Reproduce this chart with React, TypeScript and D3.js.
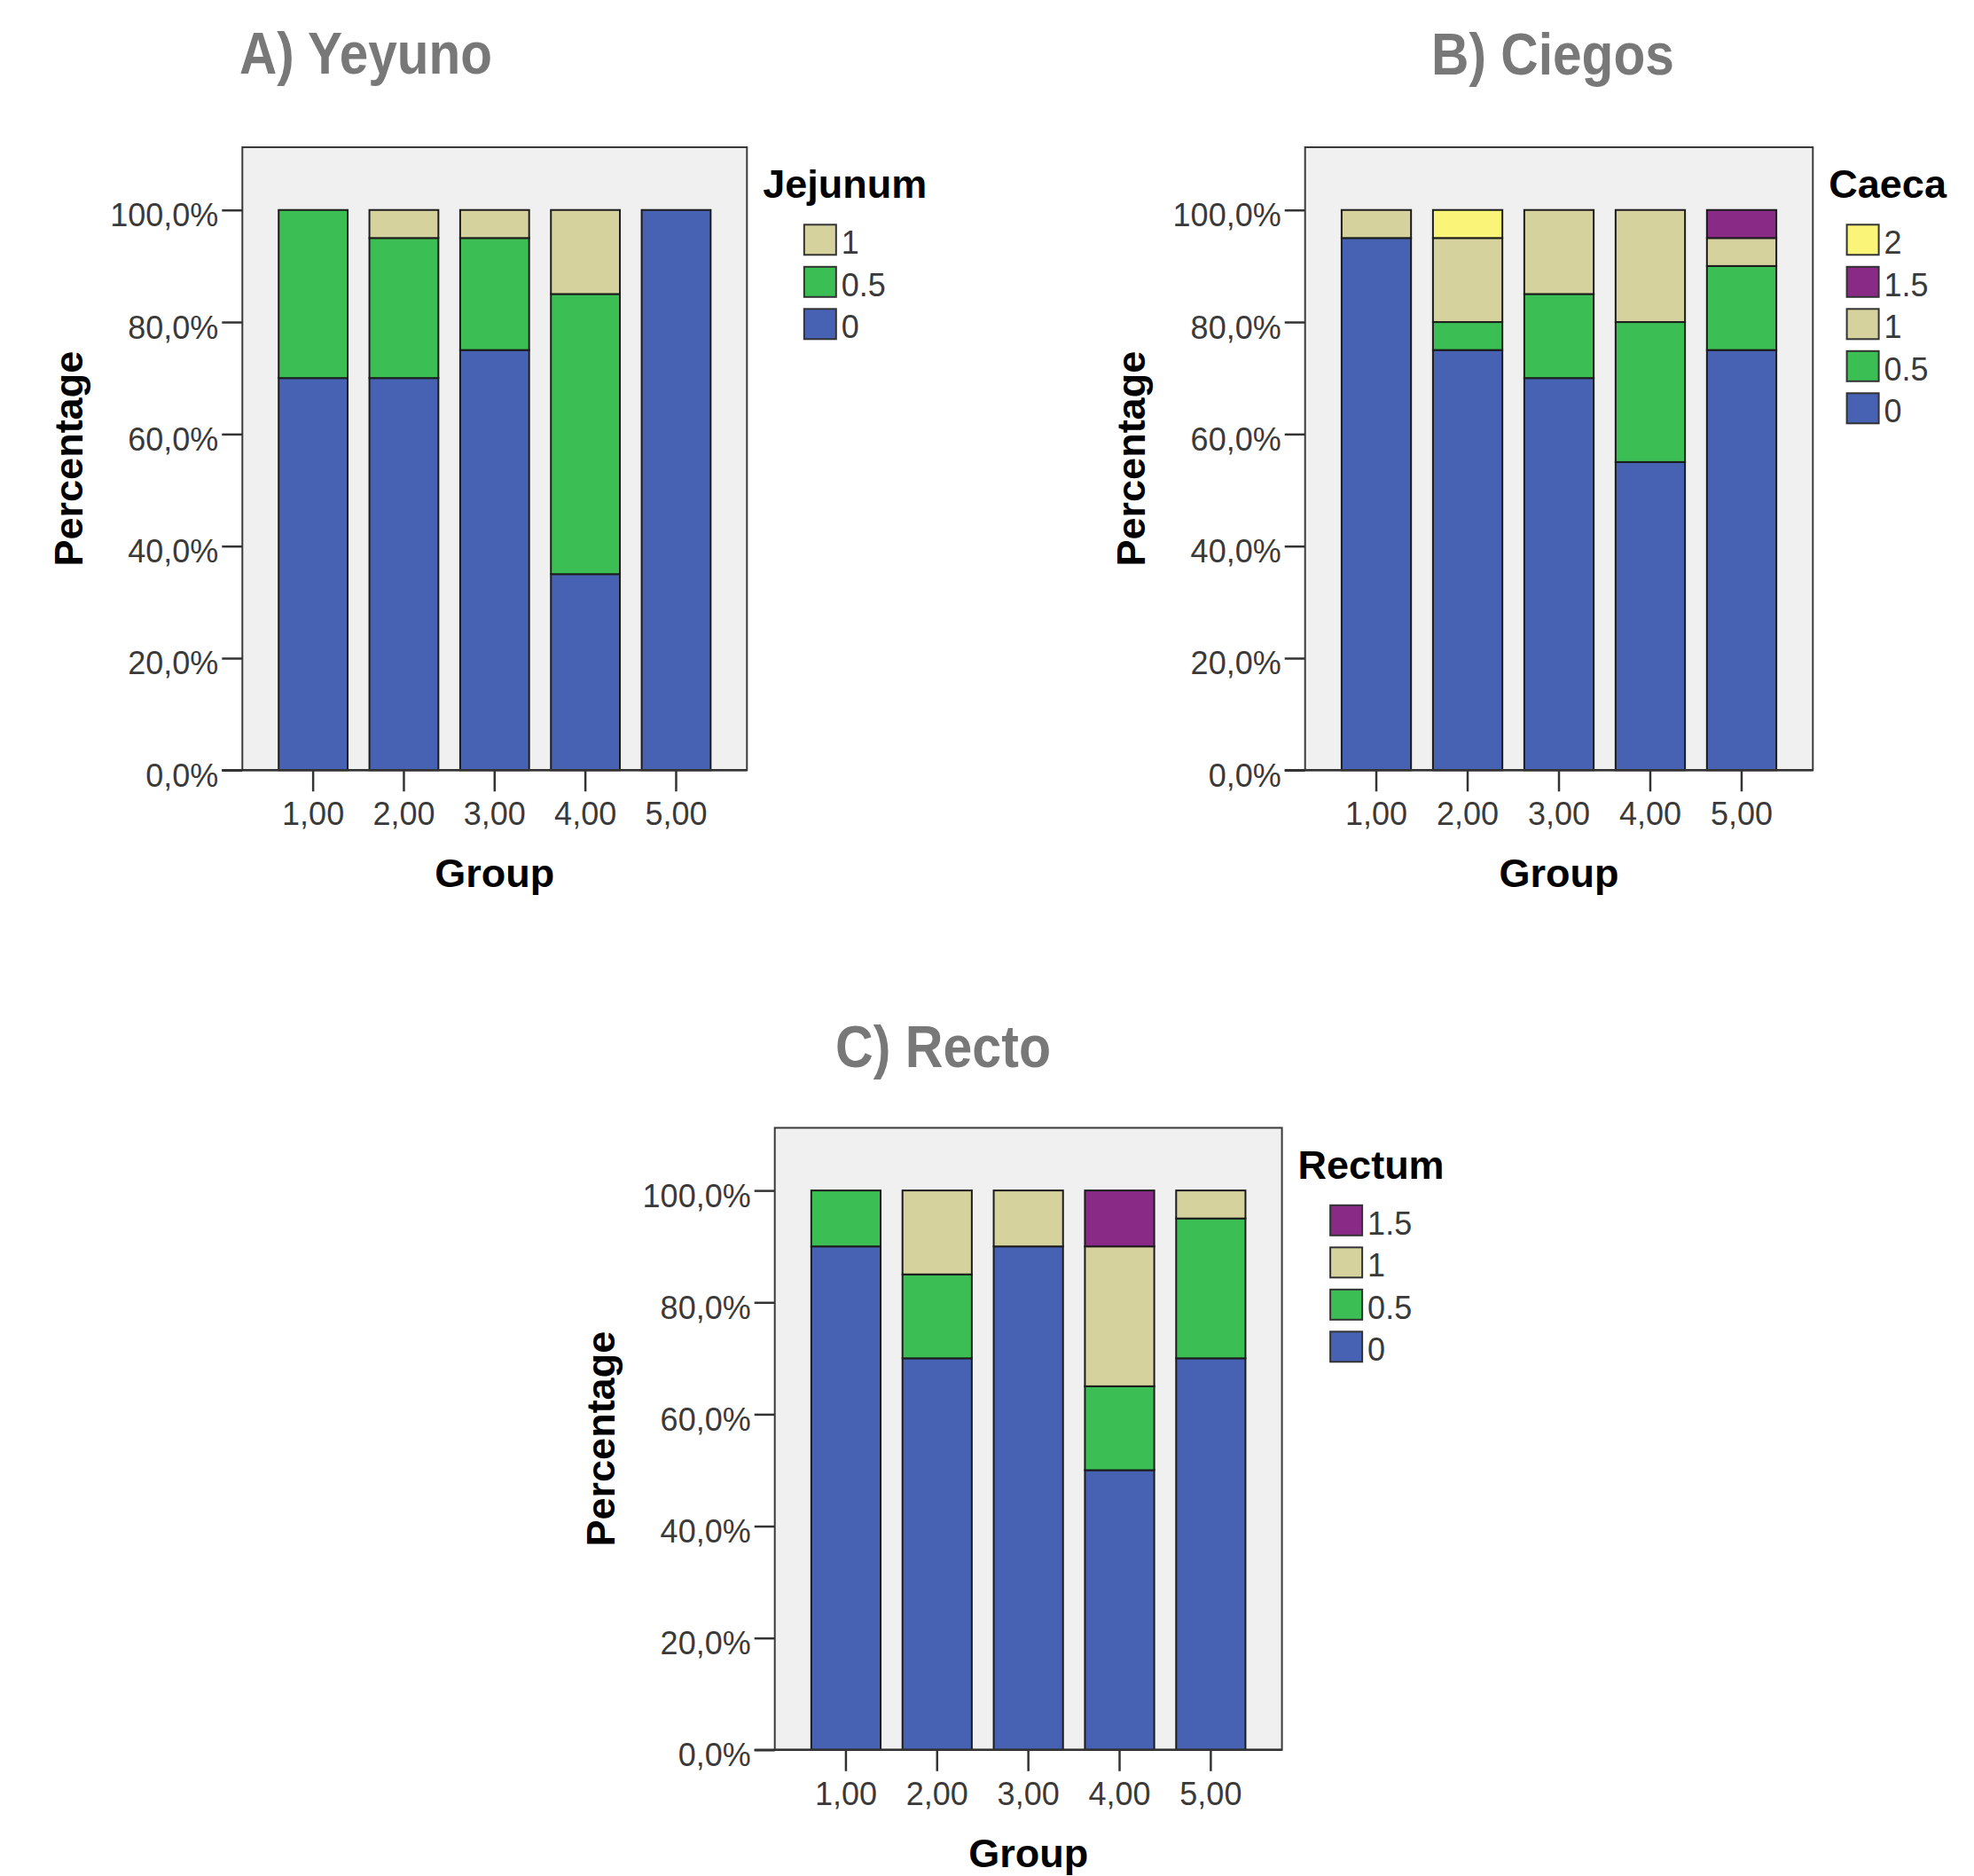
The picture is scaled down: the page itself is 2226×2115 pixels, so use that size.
import React, { useEffect, useRef } from "react";
import * as d3 from "d3";

// ---- Data ----
const GROUPS = ["1,00", "2,00", "3,00", "4,00", "5,00"];
const Y_TICKS = [0, 20, 40, 60, 80, 100];

// Jejunum (A) – percentages per group
const JEJ_CATS = ["0", "0.5", "1"];
const JEJ_0 = [70, 70, 75, 35, 100];
const JEJ_05 = [30, 25, 20, 50, 0];
const JEJ_1 = [0, 5, 5, 15, 0];

// Caeca (B)
const CAE_CATS = ["0", "0.5", "1", "1.5", "2"];
const CAE_0 = [95, 75, 70, 55, 75];
const CAE_05 = [0, 5, 15, 25, 15];
const CAE_1 = [5, 15, 15, 20, 5];
const CAE_15 = [0, 0, 0, 0, 5];
const CAE_2 = [0, 5, 0, 0, 0];

// Rectum (C)
const REC_CATS = ["0", "0.5", "1", "1.5"];
const REC_0 = [90, 70, 90, 50, 70];
const REC_05 = [10, 15, 0, 15, 25];
const REC_1 = [0, 15, 10, 25, 5];
const REC_15 = [0, 0, 0, 10, 0];

const CAT_COLORS: Record<string, string> = {
  "0": "#4762B2",
  "0.5": "#3BBE54",
  "1": "#D6D29E",
  "1.5": "#892A86",
  "2": "#FAF578",
};

const FONT = "'Liberation Sans', Arial, sans-serif";

type Panel = {
  title: string;
  titleX: number;
  titleY: number;
  titleW: number;
  legendTitle: string;
  cats: string[];
  series: number[][];
  left: number;
  top: number;
  right: number;
  bottom: number;
};

const PANELS: Panel[] = [
  {
    title: "A) Yeyuno", titleX: 270, titleY: 83, titleW: 285,
    legendTitle: "Jejunum", cats: JEJ_CATS, series: [JEJ_0, JEJ_05, JEJ_1],
    left: 273.3, top: 166, right: 842.3, bottom: 868.3,
  },
  {
    title: "B) Ciegos", titleX: 1614, titleY: 84, titleW: 274,
    legendTitle: "Caeca", cats: CAE_CATS, series: [CAE_0, CAE_05, CAE_1, CAE_15, CAE_2],
    left: 1471.7, top: 166, right: 2044.3, bottom: 868.3,
  },
  {
    title: "C) Recto", titleX: 942, titleY: 1203, titleW: 243,
    legendTitle: "Rectum", cats: REC_CATS, series: [REC_0, REC_05, REC_1, REC_15],
    left: 873.7, top: 1271.5, right: 1445.6, bottom: 1972.8,
  },
];

function drawPanel(svg: d3.Selection<SVGSVGElement, unknown, null, undefined>, p: Panel) {
  const g = svg.append("g");
  const y = d3.scaleLinear().domain([0, 111.2]).range([p.bottom, p.top]);
  const x = d3
    .scaleBand<string>()
    .domain(GROUPS)
    .range([p.left, p.right])
    .paddingInner(0.24)
    .paddingOuter(0.4);

  // title
  g.append("text")
    .attr("x", p.titleX)
    .attr("y", p.titleY)
    .attr("textLength", p.titleW)
    .attr("lengthAdjust", "spacingAndGlyphs")
    .attr("font-family", FONT)
    .attr("font-weight", "bold")
    .attr("font-size", 67)
    .attr("fill", "#787878")
    .text(p.title);

  // frame background
  g.append("rect")
    .attr("x", p.left)
    .attr("y", p.top)
    .attr("width", p.right - p.left)
    .attr("height", p.bottom - p.top)
    .attr("fill", "#F0F0F0")
    .attr("stroke", "#3a3a3a")
    .attr("stroke-width", 2);

  // stacked bars
  const rows = GROUPS.map((grp, i) => {
    const r: Record<string, number | string> = { group: grp };
    p.cats.forEach((c, k) => (r[c] = p.series[k][i]));
    return r;
  });
  const stacked = d3.stack<Record<string, number | string>>().keys(p.cats)(rows as any);
  stacked.forEach((layer) => {
    const cat = layer.key;
    layer.forEach((d) => {
      if (d[1] - d[0] <= 0) return;
      const grp = (d.data as any).group as string;
      g.append("rect")
        .attr("x", x(grp)!)
        .attr("y", y(d[1]))
        .attr("width", x.bandwidth())
        .attr("height", y(d[0]) - y(d[1]))
        .attr("fill", CAT_COLORS[cat])
        .attr("stroke", "#1c1c1c")
        .attr("stroke-width", 2);
    });
  });

  // y axis ticks + labels
  const yAxis = d3
    .axisLeft(y)
    .tickValues(Y_TICKS)
    .tickSize(23)
    .tickPadding(4)
    .tickFormat((v) => `${(v as number).toFixed(1).replace(".", ",")}%`);
  const ya = g.append("g").attr("transform", `translate(${p.left},0)`).call(yAxis);
  ya.select(".domain").remove();
  ya.selectAll(".tick line").attr("stroke", "#333").attr("stroke-width", 2.5);
  ya.selectAll(".tick text")
    .attr("font-family", FONT)
    .attr("font-size", 36)
    .attr("fill", "#3a3a3a")
    .attr("dy", "0.5em");

  // x axis ticks + labels
  const xAxis = d3.axisBottom(x).tickSize(24).tickPadding(10);
  const xa = g.append("g").attr("transform", `translate(0,${p.bottom})`).call(xAxis);
  xa.select(".domain").remove();
  xa.selectAll(".tick line").attr("stroke", "#333").attr("stroke-width", 2.5);
  xa.selectAll(".tick text")
    .attr("font-family", FONT)
    .attr("font-size", 36)
    .attr("fill", "#3a3a3a")
    .attr("y", 62)
    .attr("dy", 0);

  // bottom axis line extending left over tick
  g.append("line")
    .attr("x1", p.left - 23)
    .attr("x2", p.right)
    .attr("y1", p.bottom)
    .attr("y2", p.bottom)
    .attr("stroke", "#333")
    .attr("stroke-width", 2.5);

  // axis titles
  g.append("text")
    .attr("transform", `translate(${p.left - 180.6},${(p.top + p.bottom) / 2}) rotate(-90)`)
    .attr("text-anchor", "middle")
    .attr("font-family", FONT)
    .attr("font-weight", "bold")
    .attr("font-size", 45)
    .attr("fill", "#000")
    .text("Percentage");

  g.append("text")
    .attr("x", (p.left + p.right) / 2)
    .attr("y", p.bottom + 132)
    .attr("text-anchor", "middle")
    .attr("font-family", FONT)
    .attr("font-weight", "bold")
    .attr("font-size", 45)
    .attr("fill", "#000")
    .text("Group");

  // legend
  const lt = g
    .append("text")
    .attr("x", p.right + 18)
    .attr("y", p.top + 57)
    .attr("font-family", FONT)
    .attr("font-weight", "bold")
    .attr("font-size", 45)
    .attr("fill", "#000")
    .text(p.legendTitle);
  const tw = (lt.node() as SVGTextElement).getComputedTextLength();
  const center = p.right + 18 + tw / 2;
  const blockW = 92;
  const sx = center - blockW / 2;
  const items = p.cats.slice().reverse();
  items.forEach((c, i) => {
    const sy = p.top + 87.3 + i * 47.5;
    g.append("rect")
      .attr("x", sx)
      .attr("y", sy)
      .attr("width", 36)
      .attr("height", 34)
      .attr("fill", CAT_COLORS[c])
      .attr("stroke", "#333")
      .attr("stroke-width", 2);
    g.append("text")
      .attr("x", sx + 42)
      .attr("y", sy + 33)
      .attr("font-family", FONT)
      .attr("font-size", 36)
      .attr("fill", "#3a3a3a")
      .text(c);
  });
}

export default function App() {
  const ref = useRef<SVGSVGElement | null>(null);
  useEffect(() => {
    const svg = d3.select(ref.current!);
    svg.selectAll("*").remove();
    PANELS.forEach((p) => drawPanel(svg as any, p));
  }, []);
  return (
    <svg
      ref={ref}
      width={2226}
      height={2115}
      style={{ position: "absolute", left: 0, top: 0, display: "block", background: "#fff" }}
    />
  );
}
